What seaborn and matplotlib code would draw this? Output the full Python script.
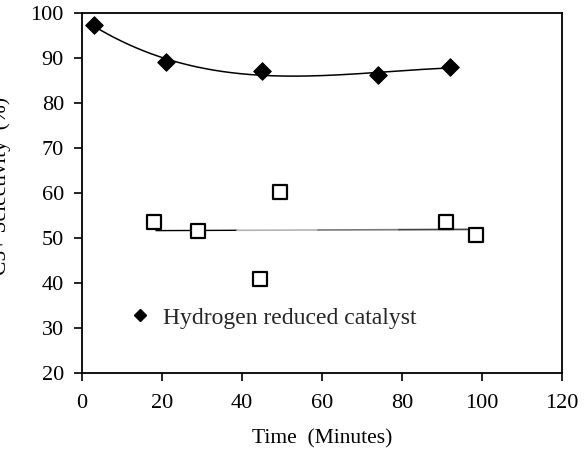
import numpy as np
import pandas as pd
import seaborn as sns
import matplotlib.pyplot as plt

# hydrogen reduced catalyst (diamonds)
time_h = [3, 21, 45, 74, 92]
sel_h = [97.3, 89.1, 87.0, 86.2, 88.0]

# second catalyst (open squares)
time_s = [18, 29, 44.5, 49.5, 91, 98.5]
sel_s = [53.6, 51.6, 41.0, 60.2, 53.6, 50.6]

sns.set_theme(style="white")
plt.rcParams['font.family'] = ['Liberation Serif', 'DejaVu Serif']

df_h = pd.DataFrame({'Time': time_h, 'Sel': sel_h})
df_s = pd.DataFrame({'Time': time_s, 'Sel': sel_s})

fig = plt.figure(figsize=(5.84, 4.54), dpi=100)
ax = fig.add_axes([0.1404, 0.1784, 0.8219, 0.7930])

# polynomial trend for diamonds
c3 = np.polyfit(time_h, sel_h, 3)
xh = np.linspace(min(time_h), max(time_h), 200)
sns.lineplot(x=xh, y=np.polyval(c3, xh), color='black', linewidth=1.1, ax=ax)

# linear trend for squares, drawn in shaded pieces like the scan
c1 = np.polyfit(time_s, sel_s, 1)
xs = np.linspace(min(time_s) + 0.5, max(time_s) + 1, 5)
shades = ['black', '#b4b4b4', '#7a7a7a', '#404040']
for i, col in enumerate(shades):
    seg = np.array([xs[i], xs[i + 1]])
    ax.plot(seg, np.polyval(c1, seg), color=col, linewidth=1.2 if i else 1.0)

sns.scatterplot(data=df_h, x='Time', y='Sel', marker='D', s=80, color='black',
                edgecolor='black', ax=ax, zorder=5)
sns.scatterplot(data=df_s, x='Time', y='Sel', marker='s', s=110, facecolor='white',
                edgecolor='black', linewidth=1.6, ax=ax, zorder=5)

ax.set_xlim(0, 120)
ax.set_ylim(20, 100)
ax.set_xticks(np.arange(0, 121, 20))
ax.set_yticks(np.arange(20, 101, 10))
for s in ax.spines.values():
    s.set_color('black')
    s.set_linewidth(1.3)
ax.tick_params(axis='both', direction='out', length=6, width=1.2, color='black',
               labelsize=16, labelcolor='black', bottom=True, left=True)
ax.tick_params(axis='x', pad=9)
ax.tick_params(axis='y', pad=7)

ax.set_xlabel('Time  (Minutes)', fontsize=15.5, color='black', labelpad=12)
# the scanned original crops this label at the left edge
ax.set_ylabel('C5+ Selectivity  (%)', fontsize=15.5, color='black')
ax.yaxis.set_label_coords(-0.147, 0.52)

ax.plot([], [], 'D', color='black', markersize=6.5, label='Hydrogen reduced catalyst')
ax.legend(loc='center left', bbox_to_anchor=(0.096, 0.153), frameon=False, fontsize=17,
          handlelength=1.0, handletextpad=0.5, borderpad=0.0, borderaxespad=0.0)

fig.savefig('out.png', dpi=100)
